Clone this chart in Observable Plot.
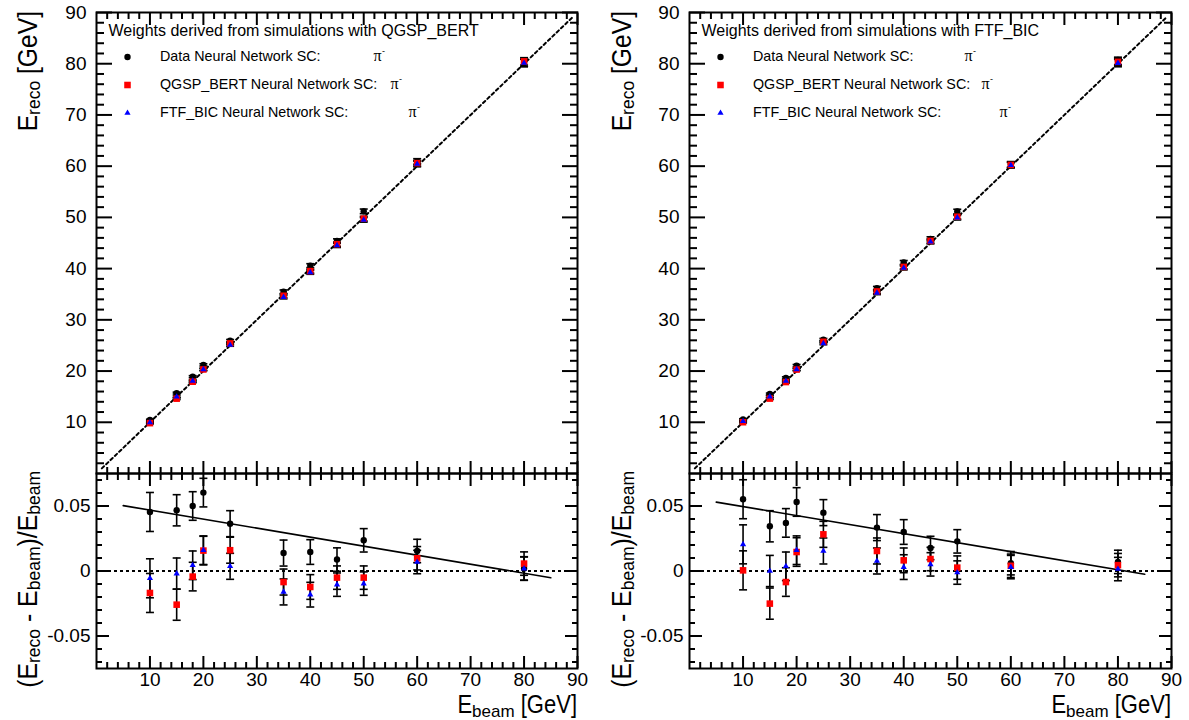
<!DOCTYPE html>
<html><head><meta charset="utf-8">
<script src="https://cdn.jsdelivr.net/npm/d3@7"></script>
<script src="https://cdn.jsdelivr.net/npm/@observablehq/plot@0.6"></script>
<style>
html,body{margin:0;padding:0;background:#fff;}
#chart{position:relative;width:1189px;height:720px;overflow:hidden;background:#fff;}
#chart > svg{position:absolute;}
</style></head><body><div id="chart"></div>
<script>
// ---------------- data ----------------
const beamEnergy = [10, 15, 18, 20, 25, 35, 40, 45, 50, 60, 80];
const relErr = [0.015, 0.012, 0.011, 0.011, 0.010, 0.010, 0.0095, 0.009, 0.009, 0.009, 0.009];
const errGeV = [0.15, 0.18, 0.20, 0.22, 0.25, 0.35, 0.38, 0.41, 0.45, 0.54, 0.72];

// Left: weights derived from QGSP_BERT
const qgspW_dataReco = [10.45, 15.70, 18.90, 21.21, 25.91, 35.48, 40.58, 45.40, 51.18, 60.92, 80.16];
const qgspW_qgspReco = [9.83, 14.61, 17.92, 20.31, 25.40, 34.70, 39.51, 44.77, 49.75, 60.59, 80.46];
const qgspW_ftfReco  = [9.94, 14.97, 18.08, 20.32, 25.09, 34.44, 39.27, 44.53, 49.52, 60.41, 80.14];
const qgspW_dataRatio = [0.0454, 0.0467, 0.0500, 0.0603, 0.0364, 0.0138, 0.0146, 0.0088, 0.0236, 0.0154, 0.0020];
const qgspW_qgspRatio = [-0.0169, -0.0259, -0.0043, 0.0157, 0.0160, -0.0085, -0.0123, -0.0051, -0.0051, 0.0098, 0.0057];
const qgspW_ftfRatio  = [-0.0056, -0.0020, 0.0044, 0.0160, 0.0036, -0.0161, -0.0182, -0.0105, -0.0097, 0.0069, 0.0018];
const qgspW_fit = [0.0503, -0.0052];

// Right: weights derived from FTF_BIC
const ftfW_dataReco = [10.55, 15.52, 18.67, 21.06, 26.12, 36.17, 41.20, 45.80, 51.14, 60.36, 80.56];
const ftfW_qgspReco = [10.01, 14.62, 17.85, 20.29, 25.71, 35.54, 40.33, 45.41, 50.13, 60.24, 80.36];
const ftfW_ftfReco  = [10.21, 15.00, 18.06, 20.32, 25.39, 35.27, 40.12, 45.23, 49.94, 60.18, 80.12];
const ftfW_dataRatio = [0.0552, 0.0344, 0.0370, 0.0531, 0.0449, 0.0334, 0.0300, 0.0177, 0.0228, 0.0060, 0.0070];
const ftfW_qgspRatio = [0.0005, -0.0251, -0.0085, 0.0146, 0.0282, 0.0154, 0.0082, 0.0092, 0.0026, 0.0040, 0.0045];
const ftfW_ftfRatio  = [0.0205, 0.0000, 0.0036, 0.0160, 0.0154, 0.0077, 0.0030, 0.0051, -0.0012, 0.0030, 0.0015];
const ftfW_fit = [0.0530, -0.0025];

const fitRange = [5, 85];
const diagonalEnds = [1, 89];
const zeroLineRange = [0, 90];

const headers = ["Weights derived from simulations with QGSP_BERT", "Weights derived from simulations with FTF_BIC"];
const legendLabels = ["Data Neural Network SC:", "QGSP_BERT Neural Network SC:", "FTF_BIC Neural Network SC:"];
const particle = "π";

const xMajor = [10, 20, 30, 40, 50, 60, 70, 80, 90];
const xMinor = d3.range(2, 90, 2).filter(v => v % 10 !== 0);
const yTopMajor = [10, 20, 30, 40, 50, 60, 70, 80, 90];
const yTopMinor = d3.range(2, 90, 2).filter(v => v % 10 !== 0);
const yBotMajor = [-0.05, 0, 0.05];
const yBotMinor = [-0.07, -0.06, -0.04, -0.03, -0.02, -0.01, 0.01, 0.02, 0.03, 0.04, 0.06, 0.07];

// ---------------- style ----------------
const FONT = '"Liberation Sans", Arial, Helvetica, sans-serif';
const SERIF = '"Liberation Serif", "Times New Roman", serif';
const RED = "#ff0000", BLUE = "#0000ff";
const seriesStyle = [
  {symbol: "circle", r: 3.2, fill: "#000"},
  {symbol: "square", r: 3.7, fill: RED},
  {symbol: "triangle", r: 2.3, fill: BLUE}
];
const capSymbol = {draw(ctx) { ctx.moveTo(-4, 0); ctx.lineTo(4, 0); }};

const panels = [
  {left: 0, width: 594, ml: 96, mr: 17, header: headers[0],
   reco: [qgspW_dataReco, qgspW_qgspReco, qgspW_ftfReco],
   ratio: [qgspW_dataRatio, qgspW_qgspRatio, qgspW_ftfRatio], fit: qgspW_fit, piDx: [277, 294, 312]},
  {left: 594, width: 595, ml: 95, mr: 18, header: headers[1],
   reco: [ftfW_dataReco, ftfW_qgspReco, ftfW_ftfReco],
   ratio: [ftfW_dataRatio, ftfW_qgspRatio, ftfW_ftfRatio], fit: ftfW_fit, piDx: [275, 292, 310]}
];

const TOP_H = 473, TOP_MT = 12;
const BOT_H = 247, BOT_MB = 52;

function tickAxes(xMaj, xMin, yMaj, yMin, xLen, xMinLen, yLen, yMinLen) {
  const common = {fill: "none", label: null, stroke: "black", strokeWidth: 2};
  return [
    Plot.axisX({...common, anchor: "bottom", ticks: xMaj, tickSize: -xLen}),
    Plot.axisX({...common, anchor: "bottom", ticks: xMin, tickSize: -xMinLen}),
    Plot.axisX({...common, anchor: "top", ticks: xMaj, tickSize: -xLen}),
    Plot.axisX({...common, anchor: "top", ticks: xMin, tickSize: -xMinLen}),
    Plot.axisY({...common, anchor: "left", ticks: yMaj, tickSize: -yLen}),
    Plot.axisY({...common, anchor: "left", ticks: yMin, tickSize: -yMinLen}),
    Plot.axisY({...common, anchor: "right", ticks: yMaj, tickSize: -yLen}),
    Plot.axisY({...common, anchor: "right", ticks: yMin, tickSize: -yMinLen})
  ];
}

function pointMarks(tables) {
  const marks = [];
  for (const t of tables) {
    marks.push(Plot.ruleX(t, {x: "e", y1: "lo", y2: "hi", stroke: "black", strokeWidth: 1.6}));
    marks.push(Plot.dot(t, {x: "e", y: "hi", symbol: capSymbol, stroke: "black", fill: "none", strokeWidth: 1.6}));
    marks.push(Plot.dot(t, {x: "e", y: "lo", symbol: capSymbol, stroke: "black", fill: "none", strokeWidth: 1.6}));
  }
  tables.forEach((t, k) => {
    const s = seriesStyle[k];
    marks.push(Plot.dot(t, {x: "e", y: "v", symbol: s.symbol, r: s.r, fill: s.fill, stroke: "none"}));
  });
  return marks;
}

function legendMarks(p) {
  const rowsBase = [48.5, 76.5, 104.5];
  const marks = [
    Plot.text([p.header], {frameAnchor: "top-left", dx: 12, dy: 23, text: d => d, textAnchor: "start",
      lineAnchor: "bottom", fontSize: 16, fontFamily: FONT, fill: "black"})
  ];
  legendLabels.forEach((lab, k) => {
    const s = seriesStyle[k];
    marks.push(Plot.dot([lab], {frameAnchor: "top-left", dx: 31, dy: rowsBase[k] - 4, symbol: s.symbol, r: s.r, fill: s.fill, stroke: "none"}));
    marks.push(Plot.text([lab], {frameAnchor: "top-left", dx: 63.5, dy: rowsBase[k], text: d => d, textAnchor: "start",
      lineAnchor: "bottom", fontSize: 14.3, fontFamily: FONT, fill: "black"}));
    marks.push(Plot.text([particle], {frameAnchor: "top-left", dx: p.piDx[k], dy: rowsBase[k], text: d => d, textAnchor: "start",
      lineAnchor: "bottom", fontSize: 16, fontFamily: SERIF, fill: "black"}));
    marks.push(Plot.text(["-"], {frameAnchor: "top-left", dx: p.piDx[k] + 8.5, dy: rowsBase[k] - 7, text: d => d, textAnchor: "start",
      lineAnchor: "bottom", fontSize: 9, fontFamily: FONT, fill: "black"}));
  });
  return marks;
}

const chart = document.getElementById("chart");

for (const p of panels) {
  // ---- top panel ----
  const topTables = p.reco.map(arr => beamEnergy.map((e, i) => ({e, v: arr[i], lo: arr[i] - errGeV[i], hi: arr[i] + errGeV[i]})));
  const top = Plot.plot({
    width: p.width, height: TOP_H,
    marginLeft: p.ml, marginRight: p.mr, marginTop: TOP_MT, marginBottom: 0,
    x: {domain: [0, 90], axis: null},
    y: {domain: [0, 90], axis: null},
    style: {fontFamily: FONT, background: "transparent", overflow: "visible", color: "black"},
    marks: [
      Plot.line(diagonalEnds, {x: d => d, y: d => d, stroke: "black", strokeWidth: 2, strokeDasharray: "3,3"}),
      ...pointMarks(topTables),
      ...tickAxes(xMajor, xMinor, yTopMajor, yTopMinor, 12, 6, 16, 8),
      Plot.axisY({anchor: "left", ticks: yTopMajor, tickSize: 0, tickPadding: 10, label: null, fontSize: 19, fill: "black", fontFamily: FONT}),
      Plot.frame({stroke: "black", strokeWidth: 2}),
      ...legendMarks(p)
    ]
  });
  top.style.left = p.left + "px";
  top.style.top = "0px";
  chart.appendChild(top);

  // ---- bottom (ratio) panel ----
  const botTables = p.ratio.map(arr => beamEnergy.map((e, i) => ({e, v: arr[i], lo: arr[i] - relErr[i], hi: arr[i] + relErr[i]})));
  const bot = Plot.plot({
    width: p.width, height: BOT_H,
    marginLeft: p.ml, marginRight: p.mr, marginTop: 0, marginBottom: BOT_MB,
    x: {domain: [0, 90], axis: null},
    y: {domain: [-0.075, 0.075], axis: null},
    style: {fontFamily: FONT, background: "transparent", overflow: "visible", color: "black"},
    marks: [
      Plot.ruleY([0], {x1: zeroLineRange[0], x2: zeroLineRange[1], stroke: "black", strokeWidth: 2, strokeDasharray: "3,3"}),
      Plot.line(fitRange.map((e, i) => ({e, v: p.fit[i]})), {x: "e", y: "v", stroke: "black", strokeWidth: 1.6}),
      ...pointMarks(botTables),
      ...tickAxes(xMajor, xMinor, yBotMajor, yBotMinor, 12, 6, 13, 6),
      Plot.axisX({anchor: "bottom", ticks: xMajor, tickSize: 0, tickPadding: 4, label: null, fontSize: 19, fill: "black", fontFamily: FONT, tickFormat: d => String(d)}),
      Plot.axisY({anchor: "left", ticks: yBotMajor, tickSize: 0, tickPadding: 6, label: null, fontSize: 19, fill: "black", fontFamily: FONT,
        tickFormat: d => d === 0 ? "0" : d.toFixed(2)}),
      Plot.frame({stroke: "black", strokeWidth: 2})
    ]
  });
  bot.style.left = p.left + "px";
  bot.style.top = TOP_H + "px";
  chart.appendChild(bot);
}

// ---------------- axis titles (overlay) ----------------
const ov = d3.select(chart).append("svg")
  .attr("width", 1189).attr("height", 720)
  .style("left", "0px").style("top", "0px").style("pointer-events", "none")
  .attr("font-family", FONT).attr("fill", "black");

// parts: [text, isSubscript]; main glyphs slightly condensed like the ROOT title font
function subText(g, parts, size, subSize, subDy, squeeze) {
  const t = g.append("text").attr("font-size", size);
  let prevSub = false;
  parts.forEach(([s, sub]) => {
    const ts = t.append("tspan");
    if (sub) {
      ts.attr("font-size", subSize).attr("dy", prevSub ? 0 : subDy).text(s);
    } else {
      ts.attr("dy", prevSub ? -subDy : 0).text(s);
    }
    prevSub = !!sub;
  });
  t.selectAll("tspan").each(function(d, i) {
    if (!parts[i][1] && squeeze !== 1) {
      const L = this.getComputedTextLength();
      if (L > 0) d3.select(this).attr("textLength", (L * squeeze).toFixed(2)).attr("lengthAdjust", "spacingAndGlyphs");
    }
  });
  return t;
}

for (const p of panels) {
  const x0 = p.left;
  // top y title
  const g1 = ov.append("g").attr("transform", `translate(${x0 + 37},11) rotate(-90)`);
  subText(g1, [["E"], ["reco", true], [" [GeV]"]], 28, 17.5, 3, 0.88).attr("text-anchor", "end");
  // bottom y title
  const g2 = ov.append("g").attr("transform", `translate(${x0 + 37},471) rotate(-90)`);
  subText(g2, [["(E"], ["reco", true], [" - E"], ["beam", true], [")/E"], ["beam", true]], 27, 17.5, 3, 0.92).attr("text-anchor", "end");
  // x title
  const g3 = ov.append("g").attr("transform", `translate(${x0 + p.width - p.mr},713)`);
  subText(g3, [["E"], ["beam", true], [" [GeV]"]], 25, 17, 4, 0.88).attr("text-anchor", "end");
}
</script>
</body></html>
